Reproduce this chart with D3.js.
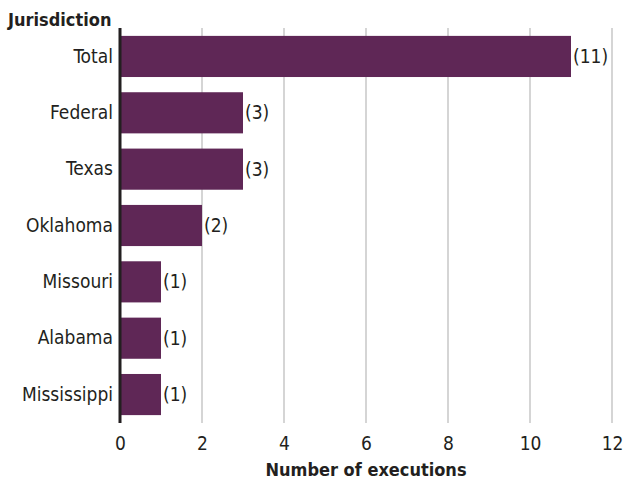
<!DOCTYPE html>
<html>
<head>
<meta charset="utf-8">
<script src="https://cdn.jsdelivr.net/npm/d3@7"></script>
<style>
body { margin: 0; background: #fff; }
text { font-family: "Liberation Sans Narrow", "DejaVu Sans Condensed", sans-serif; }
</style>
</head>
<body>
<div id="chart"></div>
<script>
var jurisdictions = ["Total", "Federal", "Texas", "Oklahoma", "Missouri", "Alabama", "Mississippi"];
var executions = [11, 3, 3, 2, 1, 1, 1];
var xTicks = [0, 2, 4, 6, 8, 10, 12];

var width = 632, height = 482;
var margin = {top: 28, right: 20, bottom: 59, left: 120};

var svg = d3.select("#chart").append("svg")
	.attr("width", width)
	.attr("height", height);

var x = d3.scaleLinear().domain([0, 12]).range([margin.left, width - margin.right]);
var y = d3.scaleBand().domain(jurisdictions)
	.range([margin.top, height - margin.bottom])
	.paddingInner(0.27)
	.paddingOuter(0.14);

// gridlines
svg.append("g")
	.selectAll("line")
	.data(xTicks.slice(1))
	.enter()
	.append("line")
	.attr("x1", function(d) { return x(d); })
	.attr("x2", function(d) { return x(d); })
	.attr("y1", margin.top)
	.attr("y2", height - margin.bottom)
	.attr("stroke", "#ababab")
	.attr("stroke-width", 1);

// bars
svg.append("g")
	.selectAll("rect")
	.data(jurisdictions)
	.enter()
	.append("rect")
	.attr("x", x(0))
	.attr("y", function(d) { return y(d); })
	.attr("width", function(d, i) { return x(executions[i]) - x(0); })
	.attr("height", y.bandwidth())
	.attr("fill", "#5f2756");

// value labels
svg.append("g")
	.selectAll("text")
	.data(jurisdictions)
	.enter()
	.append("text")
	.attr("x", function(d, i) { return x(executions[i]) + 2; })
	.attr("y", function(d) { return y(d) + y.bandwidth() / 2; })
	.attr("dy", "0.35em")
	.attr("font-size", 19)
	.attr("fill", "#231f20")
	.text(function(d, i) { return "(" + executions[i] + ")"; });

// y axis
var yAxis = svg.append("g")
	.attr("transform", "translate(" + x(0) + ",0)")
	.call(d3.axisLeft(y).tickSize(0).tickPadding(7));
yAxis.select(".domain").remove();
yAxis.attr("font-family", null);
yAxis.selectAll("text").attr("font-size", 19).attr("fill", "#231f20");

svg.append("line")
	.attr("x1", x(0)).attr("x2", x(0))
	.attr("y1", margin.top).attr("y2", height - margin.bottom)
	.attr("stroke", "#231f20")
	.attr("stroke-width", 3);

// x axis
var xAxis = svg.append("g")
	.attr("transform", "translate(0," + (height - margin.bottom) + ")")
	.call(d3.axisBottom(x).tickValues(xTicks).tickSize(0).tickPadding(14));
xAxis.select(".domain").remove();
xAxis.attr("font-family", null);
xAxis.selectAll("text").attr("font-size", 19).attr("fill", "#231f20");

// titles
svg.append("text")
	.attr("x", 8)
	.attr("y", 26)
	.attr("font-size", 18)
	.attr("font-weight", "bold")
	.attr("fill", "#231f20")
	.text("Jurisdiction");

svg.append("text")
	.attr("x", (x(0) + x(12)) / 2)
	.attr("y", 476)
	.attr("text-anchor", "middle")
	.attr("font-size", 18)
	.attr("font-weight", "bold")
	.attr("fill", "#231f20")
	.text("Number of executions");
</script>
</body>
</html>
